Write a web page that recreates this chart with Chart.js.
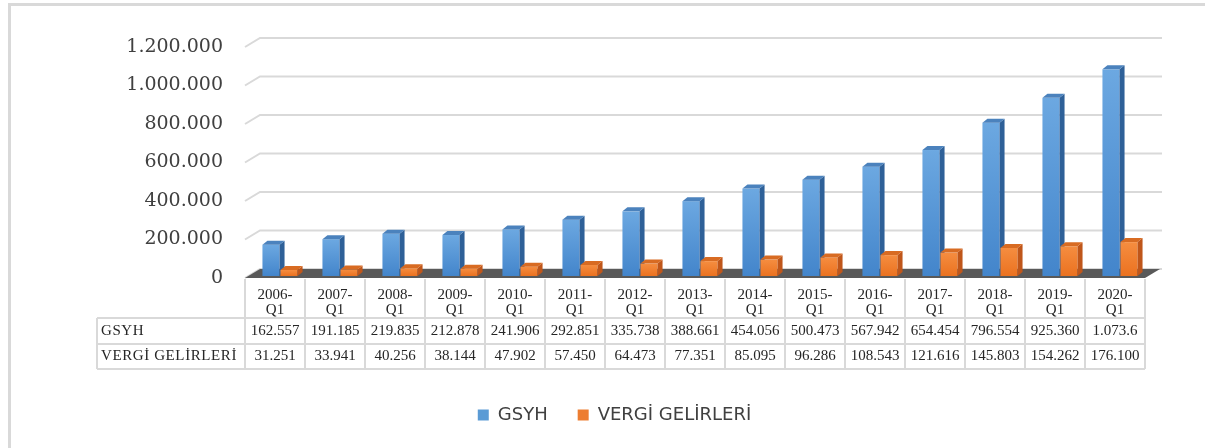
<!DOCTYPE html>
<html>
<head>
<meta charset="utf-8">
<script src="https://cdn.jsdelivr.net/npm/chart.js@4.4.1/dist/chart.umd.min.js"></script>
<style>
  body { margin: 0; background: #fff; }
  #wrap { position: relative; width: 1205px; height: 448px; overflow: hidden; }
  #frame { position: absolute; left: 8px; top: 3px; width: 1220px; height: 470px;
           border-top: 3px solid #d9d9d9; border-left: 3px solid #d9d9d9; }
  canvas { position: absolute; left: 0; top: 0; }
</style>
</head>
<body>
<div id="wrap"><div id="frame"></div><canvas id="myChart" width="1205" height="448"></canvas></div>
<script>
const categories = ['2006-Q1', '2007-Q1', '2008-Q1', '2009-Q1', '2010-Q1', '2011-Q1', '2012-Q1', '2013-Q1',
                    '2014-Q1', '2015-Q1', '2016-Q1', '2017-Q1', '2018-Q1', '2019-Q1', '2020-Q1'];
const gsyh = [162557, 191185, 219835, 212878, 241906, 292851, 335738, 388661,
              454056, 500473, 567942, 654454, 796554, 925360, 1073600];
const vergi = [31251, 33941, 40256, 38144, 47902, 57450, 64473, 77351,
               85095, 96286, 108543, 121616, 145803, 154262, 176100];
const seriesNames = ['GSYH', 'VERGİ GELİRLERİ'];
const yTicks = [0, 200000, 400000, 600000, 800000, 1000000, 1200000];

// thousands with dots, like the original
function fmt(v) {
    return String(v).replace(/\B(?=(\d{3})+(?!\d))/g, '.');
}

const wall = { dx: 15, dy: -9 };     // floor / back wall depth
const shift = { dx: 5, dy: -2 };     // bars sit a bit inside the floor
const barDepth = { dx: 5, dy: -4 };
const faces = [
    { front: ['#6ca8e1', '#4385cb'], side: '#2e6098', top: '#4b82bd' },
    { front: ['#f58d40', '#eb7220'], side: '#bf561a', top: '#d86b22' }
];
const serif = '"Liberation Serif", serif';

function drawBar(ctx, el, f) {
    const p = el.getProps(['x', 'y', 'base', 'width'], true);
    const l = p.x - p.width / 2 + shift.dx, r = p.x + p.width / 2 + shift.dx;
    const t = p.y + shift.dy, b = p.base + shift.dy;
    const g = ctx.createLinearGradient(0, t, 0, b);
    g.addColorStop(0, f.front[0]);
    g.addColorStop(1, f.front[1]);
    ctx.fillStyle = g;
    ctx.fillRect(l, t, r - l, b - t);
    ctx.fillStyle = f.side;
    ctx.beginPath();
    ctx.moveTo(r, t); ctx.lineTo(r + barDepth.dx, t + barDepth.dy);
    ctx.lineTo(r + barDepth.dx, b + barDepth.dy); ctx.lineTo(r, b);
    ctx.closePath(); ctx.fill();
    ctx.fillStyle = f.top;
    ctx.beginPath();
    ctx.moveTo(l, t); ctx.lineTo(r, t);
    ctx.lineTo(r + barDepth.dx, t + barDepth.dy); ctx.lineTo(l + barDepth.dx, t + barDepth.dy);
    ctx.closePath(); ctx.fill();
}

const threeD = {
    id: 'threeD',
    beforeDatasetsDraw(chart) {
        const { ctx, chartArea: a, scales: { y } } = chart;
        ctx.save();
        ctx.strokeStyle = '#d9d9d9';
        ctx.lineWidth = 2;
        yTicks.forEach(v => {
            const yf = y.getPixelForValue(v);
            ctx.beginPath();
            ctx.moveTo(a.left, yf);
            ctx.lineTo(a.left + wall.dx, yf + wall.dy);
            ctx.lineTo(a.right + wall.dx + 2, yf + wall.dy);
            ctx.stroke();
        });
        const y0 = y.getPixelForValue(0);
        ctx.fillStyle = '#595959';
        ctx.beginPath();
        ctx.moveTo(a.left, y0); ctx.lineTo(a.right, y0);
        ctx.lineTo(a.right + wall.dx, y0 + wall.dy); ctx.lineTo(a.left + wall.dx, y0 + wall.dy);
        ctx.closePath(); ctx.fill();

        const metas = [0, 1].map(i => chart.getDatasetMeta(i));
        for (let j = 0; j < categories.length; j++) {
            metas.forEach((m, i) => drawBar(ctx, m.data[j], faces[i]));
        }
        ctx.restore();
        return false;
    },
    afterDraw(chart) {
        // data table under the floor
        const { ctx, chartArea: a, scales: { x } } = chart;
        const colW = (a.right - a.left) / categories.length;
        const tLeft = 97;
        const r1 = a.bottom + 40, r2 = r1 + 26, r3 = r2 + 25;
        ctx.save();
        ctx.strokeStyle = '#d9d9d9';
        ctx.lineWidth = 2;
        ctx.beginPath();
        for (let k = 0; k <= categories.length; k++) {
            const xx = a.left + k * colW;
            ctx.moveTo(xx, a.bottom + 1); ctx.lineTo(xx, r3);
        }
        [r1, r2, r3].forEach(yy => { ctx.moveTo(tLeft, yy); ctx.lineTo(a.right, yy); });
        ctx.moveTo(tLeft, r1); ctx.lineTo(tLeft, r3);
        ctx.stroke();

        ctx.fillStyle = '#262626';
        ctx.font = '15px ' + serif;
        ctx.textBaseline = 'middle';
        ctx.textAlign = 'left';
        ctx.letterSpacing = '0.6px';
        ctx.fillText(seriesNames[0], tLeft + 4, (r1 + r2) / 2);
        ctx.fillText(seriesNames[1], tLeft + 4, (r2 + r3) / 2);
        ctx.letterSpacing = '0px';
        ctx.textAlign = 'center';
        categories.forEach((c, i) => {
            const cx = x.getPixelForValue(i);
            const parts = c.split('-');
            ctx.fillText(parts[0] + '-', cx, a.bottom + 17);
            ctx.fillText(parts[1], cx, a.bottom + 32);
            [gsyh[i], vergi[i]].forEach((v, k) => {
                let s = fmt(v);
                while (ctx.measureText(s).width > colW - 9) s = s.slice(0, -1);
                ctx.fillText(s, cx, k === 0 ? (r1 + r2) / 2 : (r2 + r3) / 2);
            });
        });
        ctx.restore();
    }
};

const ctx = document.getElementById('myChart').getContext('2d');
const myChart = new Chart(ctx, {
    type: 'bar',
    data: {
        labels: categories,
        datasets: [{
            label: seriesNames[0],
            data: gsyh,
            backgroundColor: '#5b9bd5'
        }, {
            label: seriesNames[1],
            data: vergi,
            backgroundColor: '#ed7d31'
        }]
    },
    options: {
        responsive: false,
        animation: false,
        layout: { padding: { left: 84, right: 60, top: 47, bottom: 14 } },
        datasets: { bar: { categoryPercentage: 0.6, barPercentage: 0.95 } },
        scales: {
            x: {
                grid: { display: false },
                border: { display: false },
                ticks: { display: false },
                afterFit: s => { s.height = 98; }
            },
            y: {
                min: 0,
                max: 1200000,
                grid: { display: false, drawTicks: false },
                border: { display: false },
                afterFit: s => { s.width = 161; },
                ticks: {
                    stepSize: 200000,
                    padding: 22,
                    color: '#404040',
                    font: { family: '"DejaVu Serif", serif', size: 19 },
                    callback: v => fmt(v)
                }
            }
        },
        plugins: {
            legend: {
                position: 'bottom',
                labels: {
                    boxWidth: 11,
                    boxHeight: 11,
                    padding: 30,
                    color: '#404040',
                    font: { family: '"DejaVu Sans", sans-serif', size: 18 }
                }
            },
            tooltip: { enabled: false }
        }
    },
    plugins: [threeD]
});
</script>
</body>
</html>
